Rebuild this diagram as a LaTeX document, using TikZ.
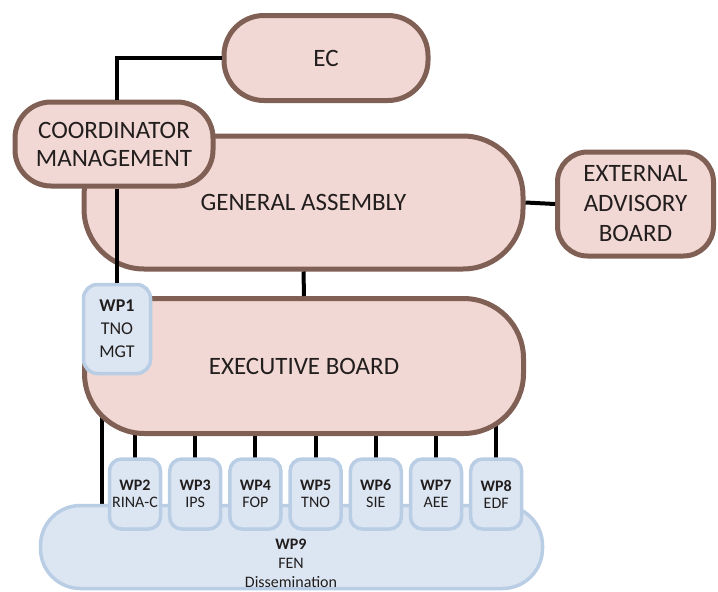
\documentclass[tikz,border=0pt]{standalone}
\usepackage{fontspec}
\setmainfont{Carlito}
\usetikzlibrary{backgrounds}
\definecolor{boardfill}{RGB}{242,216,212}
\definecolor{boardline}{RGB}{128,96,84}
\definecolor{wpfill}{RGB}{220,230,242}
\definecolor{wpline}{RGB}{185,205,229}
\definecolor{ink}{RGB}{34,30,30}
\tikzset{
  board/.style={draw=boardline, fill=boardfill, line width=5pt, align=center,
    text=ink, inner sep=0pt, font=\fontsize{25}{28}\selectfont},
  wpbox/.style={draw=wpline, fill=wpfill, line width=3.5pt, align=center,
    text=ink, inner sep=0pt, rounded corners=12pt, font=\fontsize{16}{17}\selectfont},
  link/.style={line width=4pt, black}
}
\begin{document}
\begin{tikzpicture}[x=1pt,y=-1pt]
  \useasboundingbox (0,0) rectangle (718,592);
  % boards
  \node[board, rounded corners=40pt, minimum width=204pt, minimum height=85pt] (ec) at (326,58) {EC};
  \node[board, rounded corners=60pt, minimum width=439pt, minimum height=133pt] (ga) at (303.5,202.5) {GENERAL ASSEMBLY};
  \node[board, rounded corners=36pt, minimum width=198pt, minimum height=84pt] (coord) at (114,144) {COORDINATOR\\MANAGEMENT};
  \node[board, rounded corners=30pt, minimum width=156pt, minimum height=104pt,
    font=\fontsize{25}{30}\selectfont] (eab) at (635.5,204) {EXTERNAL\\ADVISORY\\BOARD};
  \node[board, rounded corners=60pt, minimum width=439pt, minimum height=135pt] (eb) at (304,366) {EXECUTIVE BOARD};
  \coordinate (ebtap) at (102,380);
  % work packages
  \node[wpbox, rounded corners=14pt, minimum width=67pt, minimum height=89pt,
    font=\fontsize{18}{23}\selectfont] (wp1) at (117,329) {\textbf{WP1}\\TNO\\MGT};
  \node[wpbox, rounded corners=40pt, minimum width=502pt, minimum height=83pt] (wp9) at (291.5,547) {};
  \node[text=ink, align=center, font=\fontsize{16}{19}\selectfont] (wp9txt) at (291,563) {\textbf{WP9}\\FEN\\Dissemination};
  \foreach \n/\who [count=\k from 0] in {2/RINA-C,3/IPS,4/FOP,5/TNO,6/SIE,7/AEE,8/EDF}
    \node[wpbox, minimum width=51pt, minimum height=70pt] (wp\n) at ({135+60.2*\k},494) {\textbf{WP\n}\\\who};
  % links
  \draw[link] (ec.west) -| (coord.north -| wp1.north);
  \draw[link] (coord.south -| wp1.north) -- (wp1.north);
  \draw[link] (ga.east) -- (eab.west);
  \draw[link] (ga.south) -- (eb.north);
  \begin{scope}[on background layer]
    \foreach \n in {2,...,8}
      \draw[link] (wp\n.center) -- (wp\n.center |- eb.center);
    \draw[link] (ebtap) -- (ebtap |- wp9.center);
  \end{scope}
\end{tikzpicture}
\end{document}
